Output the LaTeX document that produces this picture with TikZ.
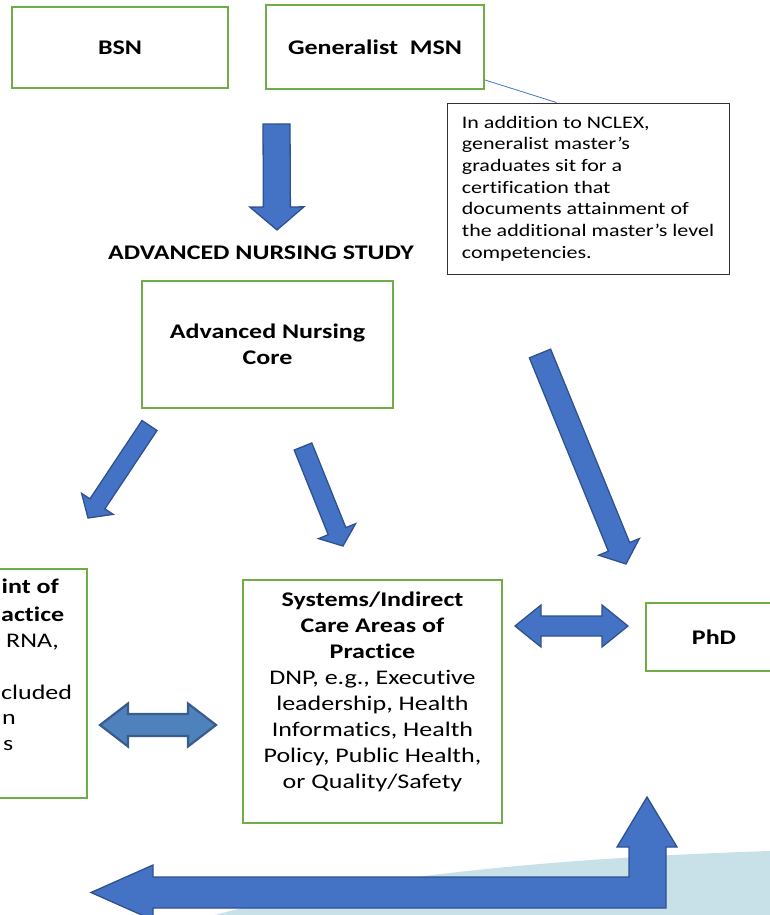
\documentclass[tikz,border=0pt]{standalone}
\usepackage{fontspec}
\setmainfont{Carlito}[FakeStretch=1.25, Ligatures=NoCommon]
\usetikzlibrary{calc}

\definecolor{boxgreen}{HTML}{70AD47}
\definecolor{arrowblue}{HTML}{4472C4}
\definecolor{arrowedge}{HTML}{2F528F}
\definecolor{oldblue}{HTML}{4F81BD}
\definecolor{oldedge}{HTML}{385D8A}
\definecolor{swooshblue}{HTML}{C8E0E8}

\newcommand{\mainsize}{\fontsize{20.8}{26}\selectfont}
\newcommand{\notesize}{\fontsize{17.6}{21.7}\selectfont}

\tikzset{
  greenbox/.style={draw=boxgreen, line width=2pt, inner sep=0pt, align=center},
  frag/.style={inner sep=0pt, anchor=mid west, font=\mainsize},
  fat/.style={fill=arrowblue, draw=arrowedge, line width=1.3pt, line join=miter},
  oldfat/.style={fill=oldblue, draw=oldedge, line width=2.2pt},
  noteline/.style={draw=arrowblue, line width=0.8pt}
}

% straight block arrow: tail, tip, half shaft, half head, head length
\newcommand{\fatarrow}[6][]{%
  \coordinate (fa-h) at ($(#3)!#6!(#2)$);
  \filldraw[fat,#1] ($(#2)!#4!90:(#3)$) -- ($(fa-h)!#4!90:(#3)$) -- ($(fa-h)!#5!90:(#3)$)
    -- (#3) -- ($(fa-h)!#5!-90:(#3)$) -- ($(fa-h)!#4!-90:(#3)$) -- ($(#2)!#4!-90:(#3)$) -- cycle;
}
% horizontal double block arrow: left x, right x, y, half shaft, half head, head length
\newcommand{\dblarrow}[7][]{%
  \filldraw[fat,#1] (#2,#4) -- (#2+#7,#4-#6) -- (#2+#7,#4-#5) -- (#3-#7,#4-#5) -- (#3-#7,#4-#6)
    -- (#3,#4) -- (#3-#7,#4+#6) -- (#3-#7,#4+#5) -- (#2+#7,#4+#5) -- (#2+#7,#4+#6) -- cycle;
}

\begin{document}
\begin{tikzpicture}[x=1pt,y=-1pt]
  \useasboundingbox (0,0) rectangle (770,915);
  \clip (0,0) rectangle (770,915);

  \fill[swooshblue] (215,915) .. controls (350,878) and (550,858) .. (770,851) -- (770,915) -- cycle;

  \node[greenbox, minimum width=216pt, minimum height=81pt, font=\bfseries\mainsize] (bsn) at (120,47.5) {BSN};
  \node[greenbox, minimum width=218pt, minimum height=84pt, font=\bfseries\mainsize] (msn) at (375,47) {Generalist\ \ MSN};

  \node[draw=black!80, line width=0.9pt, minimum width=282pt, minimum height=171pt, align=left, font=\notesize] (note) at (588,188.5)
    {In addition to NCLEX,\\generalist master’s\\graduates sit for a\\certification that\\documents attainment of\\the additional master’s level\\competencies.};
  \draw[noteline] ([yshift=10pt]msn.south east) -- ([xshift=110pt]note.north west);

  \fatarrow{276.5,124}{277,230}{13.5pt}{27pt}{23pt}

  \node[font=\bfseries\mainsize] (study) at (261,253) {ADVANCED NURSING STUDY};
  \node[greenbox, minimum width=251pt, minimum height=127pt, font=\bfseries\mainsize] (core) at (267.5,344.5) {Advanced Nursing\\Core};

  \fatarrow{149.5,425.5}{88,518}{9pt}{19pt}{17pt}
  \fatarrow{303,446.5}{343,546}{9.5pt}{20pt}{16pt}
  \fatarrow{540,353.5}{626,564}{11.5pt}{22pt}{18.5pt}

  % left box, cut by the page edge
  \node[greenbox, minimum width=257pt, minimum height=229pt] (direct) at (-41.5,683.5) {};
  \node[frag, font=\bfseries\mainsize] (d1) at (1.5,591) {int of};
  \node[frag, font=\bfseries\mainsize] (d2) at (1,619) {actice};
  \node[frag] (d3) at (6,645) {RNA,};
  \node[frag] (d4) at (1,697) {cluded};
  \node[frag] (d5) at (2,722) {n};
  \node[frag] (d6) at (3,748) {s};

  \node[greenbox, minimum width=259pt, minimum height=243pt] (sys) at (372.5,701.5) {};
  \node[align=center, anchor=north, inner sep=0pt, font=\mainsize] (systext) at ([yshift=-13pt]sys.north)
    {\textbf{Systems/Indirect}\\\textbf{Care Areas of}\\\textbf{Practice}\\DNP, e.g., Executive\\leadership, Health\\Informatics, Health\\Policy, Public Health,\\or Quality/Safety};

  \node[greenbox, minimum width=136pt, minimum height=68pt, font=\bfseries\mainsize] (phd) at (714,637) {PhD};

  \dblarrow[oldfat]{100}{216}{725}{11}{21.5}{28}
  \dblarrow{515}{628}{626}{10}{21}{26}

  \filldraw[fat] (91,892.5) -- (153,865) -- (153,877) -- (629,877) -- (629,847) -- (617,847) -- (647,797)
    -- (677,847) -- (666,847) -- (666,908) -- (153,908) -- (153,920) -- cycle;
\end{tikzpicture}
\end{document}
